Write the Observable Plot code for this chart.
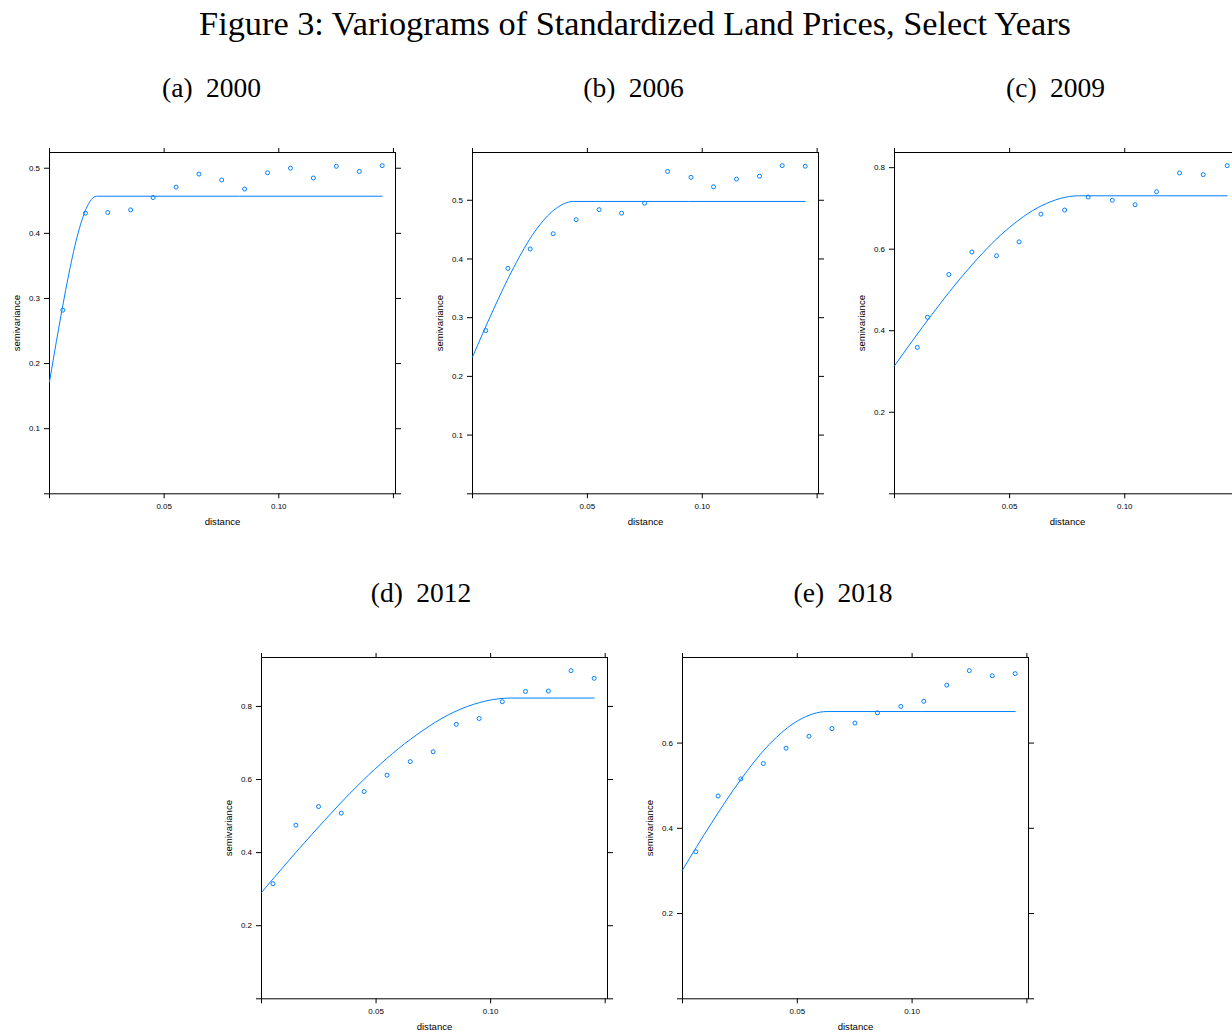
<!DOCTYPE html>
<html><head><meta charset="utf-8">
<script src="https://cdn.jsdelivr.net/npm/d3@7"></script>
<script src="https://cdn.jsdelivr.net/npm/@observablehq/plot@0.6"></script>
<style>
html,body{margin:0;padding:0;background:#fff;}
#fig{position:relative;width:1232px;height:1034px;overflow:hidden;background:#fff;}
.ttl{position:absolute;font-family:"Liberation Serif","Times New Roman",serif;color:#000;white-space:nowrap;line-height:1;transform:translateX(-50%);}
.panel{position:absolute;width:415px;}
.panel svg{overflow:visible;max-width:none !important;}
</style></head><body><div id="fig"></div>
<script>
// ---- data ----
const figureTitle = "Figure 3: Variograms of Standardized Land Prices, Select Years";
const years = ["2000", "2006", "2009", "2012", "2018"];
const panelTags = ["(a)", "(b)", "(c)", "(d)", "(e)"];

const dist2000  = [0.0058,0.0157,0.0254,0.0354,0.0452,0.0552,0.0652,0.0751,0.0851,0.0951,0.1051,0.1151,0.1251,0.1351,0.1451];
const gamma2000 = [0.282,0.431,0.432,0.436,0.455,0.471,0.491,0.482,0.468,0.493,0.500,0.485,0.503,0.495,0.504];
const modelDist2000  = [0, 0.004, 0.008, 0.012, 0.016, 0.0205, 0.1451];
const modelGamma2000 = [0.172, 0.254, 0.330, 0.394, 0.438, 0.457, 0.457];

const dist2006  = [0.0058,0.0154,0.0251,0.0351,0.0451,0.0551,0.0649,0.0749,0.0849,0.0951,0.1049,0.1149,0.1249,0.1348,0.1448];
const gamma2006 = [0.278,0.384,0.417,0.443,0.467,0.484,0.478,0.495,0.549,0.539,0.523,0.536,0.541,0.559,0.558];
const modelDist2006  = [0, 0.009, 0.018, 0.027, 0.036, 0.044, 0.1448];
const modelGamma2006 = [0.233, 0.313, 0.386, 0.446, 0.485, 0.498, 0.498];

const dist2009  = [0.0099,0.0143,0.0236,0.0336,0.0443,0.0541,0.0636,0.0739,0.0841,0.0946,0.1045,0.1138,0.1238,0.1341,0.1445];
const gamma2009 = [0.359,0.433,0.538,0.593,0.584,0.618,0.686,0.696,0.728,0.720,0.709,0.741,0.787,0.783,0.805];
const modelDist2009  = [0, 0.016, 0.032, 0.048, 0.064, 0.080, 0.1445];
const modelGamma2009 = [0.314, 0.438, 0.551, 0.644, 0.707, 0.731, 0.731];

const dist2012  = [0.0050,0.0150,0.0249,0.0348,0.0448,0.0548,0.0649,0.0749,0.0850,0.0950,0.1051,0.1152,0.1252,0.1351,0.1452];
const gamma2012 = [0.315,0.475,0.526,0.508,0.567,0.612,0.649,0.676,0.751,0.767,0.813,0.841,0.842,0.898,0.877];
const modelDist2012  = [0, 0.022, 0.044, 0.065, 0.087, 0.109, 0.1452];
const modelGamma2012 = [0.291, 0.450, 0.596, 0.710, 0.793, 0.823, 0.823];

const dist2018  = [0.0058,0.0155,0.0254,0.0352,0.0451,0.0551,0.0651,0.0751,0.0849,0.0951,0.1051,0.1151,0.1249,0.1349,0.1449];
const gamma2018 = [0.345,0.476,0.516,0.552,0.588,0.616,0.634,0.647,0.671,0.686,0.698,0.736,0.770,0.758,0.763];
const modelDist2018  = [0, 0.0126, 0.0252, 0.0378, 0.0504, 0.063, 0.1449];
const modelGamma2018 = [0.302, 0.412, 0.513, 0.597, 0.653, 0.674, 0.674];

const xTicks = [0, 0.05, 0.10, 0.15];
const yTicks2000 = [0, 0.1, 0.2, 0.3, 0.4, 0.5];
const yTicks2006 = [0, 0.1, 0.2, 0.3, 0.4, 0.5];
const yTicks2009 = [0, 0.2, 0.4, 0.6, 0.8];
const yTicks2012 = [0, 0.2, 0.4, 0.6, 0.8];
const yTicks2018 = [0, 0.2, 0.4, 0.6];
const xLabel = "distance";
const yLabel = "semivariance";

// ---- drawing ----
const BLUE = "#0080ff";
const fig = document.getElementById("fig");

function panel(dist, gamma, mDist, mGamma, yTicks) {
  const pts = dist.map((d, i) => ({d, g: gamma[i]}));
  const model = mDist.map((d, i) => ({d, g: mGamma[i]}));
  const xMax = 1.04 * d3.max(dist), yMax = 1.04 * d3.max(gamma);
  const fmtX = d => (d > 0 && d < 0.149) ? d3.format(".2f")(d) : "";
  const fmtY = d => d > 0 ? d3.format(".1f")(d) : "";
  return Plot.plot({
    width: 415, height: 396.3,
    marginLeft: 49, marginRight: 20, marginTop: 15, marginBottom: 40,
    style: {fontFamily: "'Liberation Sans', Arial, sans-serif", fontSize: "8px", color: "#000", background: "transparent"},
    x: {domain: [0, xMax]},
    y: {domain: [0, yMax]},
    marks: [
      Plot.frame({stroke: "#000", strokeWidth: 1}),
      Plot.axisX({anchor: "bottom", ticks: xTicks, tickSize: 5, tickPadding: 5, tickFormat: fmtX, label: null}),
      Plot.axisX({anchor: "top", ticks: xTicks, tickSize: 5, tickFormat: () => "", label: null}),
      Plot.axisY({anchor: "left", ticks: yTicks, tickSize: 5, tickPadding: 4.5, tickFormat: fmtY, label: null}),
      Plot.axisY({anchor: "right", ticks: yTicks, tickSize: 5, tickFormat: () => "", label: null}),
      Plot.text([yLabel], {frameAnchor: "left", dx: -33, rotate: -90, textAnchor: "middle", lineAnchor: "middle", fontSize: 9.6}),
      Plot.text([xLabel], {frameAnchor: "bottom", dy: 27.7, textAnchor: "middle", lineAnchor: "middle", fontSize: 9.6}),
      Plot.line(model, {x: "d", y: "g", curve: "monotone-x", stroke: BLUE, strokeWidth: 1}),
      Plot.dot(pts, {x: "d", y: "g", r: 2, stroke: BLUE, strokeWidth: 1, fill: "none"})
    ]
  });
}

function place(el, left, top) {
  const wrap = document.createElement("div");
  wrap.className = "panel";
  wrap.style.left = left + "px";
  wrap.style.top = top + "px";
  wrap.appendChild(el);
  fig.appendChild(wrap);
}

function title(text, cx, baseline, size, extra) {
  const t = document.createElement("div");
  t.className = "ttl";
  t.textContent = text;
  t.style.fontSize = size + "px";
  t.style.left = cx + "px";
  t.style.top = (baseline - 0.8375 * size) + "px";
  if (extra) Object.assign(t.style, extra);
  fig.appendChild(t);
}

const panels = [
  [dist2000, gamma2000, modelDist2000, modelGamma2000, yTicks2000, 49,    152,   211.5, 96.7],
  [dist2006, gamma2006, modelDist2006, modelGamma2006, yTicks2006, 471.5, 152,   633.5, 96.7],
  [dist2009, gamma2009, modelDist2009, modelGamma2009, yTicks2009, 893.5, 152,   1055.5, 96.7],
  [dist2012, gamma2012, modelDist2012, modelGamma2012, yTicks2012, 260.5, 657,   421,   601.7],
  [dist2018, gamma2018, modelDist2018, modelGamma2018, yTicks2018, 682,   657,   843,   601.7]
];

title(figureTitle, 635, 35, 34.3);
panels.forEach((p, i) => {
  const [dist, gamma, md, mg, yt, boxLeft, boxTop, cx, base] = p;
  place(panel(dist, gamma, md, mg, yt), boxLeft - 49, boxTop - 15);
  title(panelTags[i] + " " + years[i], cx, base, 27.5, {wordSpacing: "6.5px"});
});
</script>
</body></html>
